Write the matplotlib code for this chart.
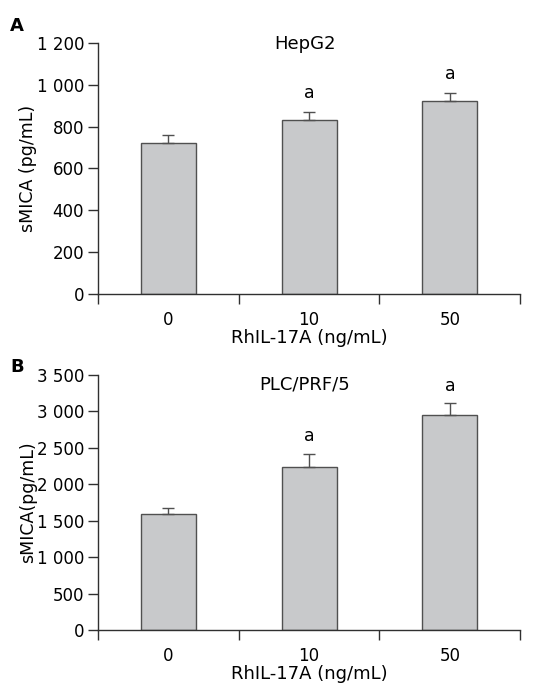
import matplotlib
matplotlib.use("Agg")
import matplotlib.pyplot as plt
from matplotlib.ticker import FuncFormatter

categories = ["0", "10", "50"]
hepg2_mean = [720, 830, 920]
hepg2_err = [42, 42, 42]
hepg2_sig = ["", "a", "a"]
plc_mean = [1590, 2230, 2950]
plc_err = [80, 190, 160]
plc_sig = ["", "a", "a"]

plt.rcParams['font.family'] = ['DejaVu Sans']
plt.rcParams['font.size'] = 12

fig = plt.figure(figsize=(5.49, 6.88), dpi=100)
ax1 = fig.add_axes([0.1785, 0.5727, 0.769, 0.365])
ax2 = fig.add_axes([0.1785, 0.0843, 0.769, 0.371])

def space_thousands(v, pos):
    s = "{:,.0f}".format(v)
    return s.replace(",", " ")

def draw(ax, means, errs, sig, ymax, step, title, ylabel, sig_off, title_y):
    x = range(len(categories))
    ax.bar(x, means, width=0.39, color='#c8c9cb', edgecolor='#505050', linewidth=1.0, zorder=2)
    ax.errorbar(x, means, yerr=[[0]*len(errs), errs], fmt='none', ecolor='#505050',
                elinewidth=1.0, capsize=4, capthick=1.0, zorder=3)
    for xi, m, e, s in zip(x, means, errs, sig):
        if s:
            ax.text(xi, m + e + sig_off, s, ha='center', va='bottom', fontsize=12.5)
    ax.set_xlim(-0.5, 2.5)
    ax.set_ylim(0, ymax)
    ax.set_yticks(range(0, ymax + 1, step))
    ax.yaxis.set_major_formatter(FuncFormatter(space_thousands))
    ax.set_xticks([-0.5, 0.5, 1.5, 2.5])
    ax.set_xticklabels([])
    ax.set_xticks([0, 1, 2], minor=True)
    ax.set_xticklabels(categories, minor=True)
    ax.tick_params(axis='x', which='minor', length=0, pad=12)
    ax.tick_params(axis='x', which='major', length=7, width=1, color='#303030')
    ax.tick_params(axis='y', length=7, width=1, color='#303030', pad=3)
    for sp in ['top', 'right']:
        ax.spines[sp].set_visible(False)
    for sp in ['left', 'bottom']:
        ax.spines[sp].set_color('#303030')
        ax.spines[sp].set_linewidth(1.0)
    ax.set_ylabel(ylabel, labelpad=0, fontsize=12.5)
    ax.set_xlabel("RhIL-17A (ng/mL)", labelpad=0, fontsize=13)
    ax.set_title(title, fontsize=13, y=title_y, va='center', x=0.49, pad=0)

draw(ax1, hepg2_mean, hepg2_err, hepg2_sig, 1200, 200, "HepG2", "sMICA (pg/mL)", 45, 0.995)
draw(ax2, plc_mean, plc_err, plc_sig, 3500, 500, "PLC/PRF/5", "sMICA(pg/mL)", 110, 0.96)

fig.text(0.018, 0.962, "A", fontsize=13, fontweight='heavy', va='center')
fig.text(0.018, 0.467, "B", fontsize=13, fontweight='heavy', va='center')

fig.savefig("out.png", dpi=100, facecolor='white')
